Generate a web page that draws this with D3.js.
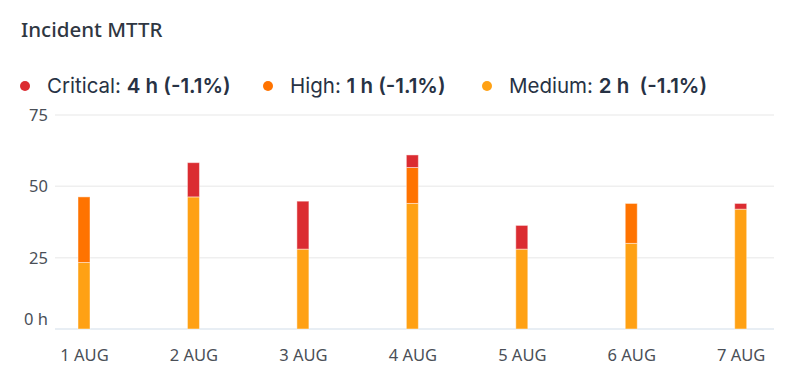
<!DOCTYPE html>
<html>
<head>
<meta charset="utf-8">
<script src="https://cdn.jsdelivr.net/npm/d3@7"></script>
<style>
    body { margin: 0; background: #fff; }
    svg { display: block; }
</style>
</head>
<body>
<div class="chart"></div>
<script>
const days = ['1 AUG', '2 AUG', '3 AUG', '4 AUG', '5 AUG', '6 AUG', '7 AUG'];
const medium = [23.3, 46.3, 28, 44, 28, 30, 42];
const high = [23, 0, 0, 12.6, 0, 14, 0];
const critical = [0, 12, 16.8, 4.4, 8.3, 0, 2];
const yTicks = [0, 25, 50, 75];

const legendItems = [
    { name: 'Critical', value: '4 h', change: '(-1.1%)', color: '#db2c31' },
    { name: 'High', value: '1 h', change: '(-1.1%)', color: '#ff7300' },
    { name: 'Medium', value: '2 h', change: ' (-1.1%)', color: '#ffa114' }
];

const width = 789;
const height = 384;
const margin = { top: 115, right: 15, bottom: 55, left: 55 };

const rows = days.map((day, i) => ({
    day,
    Medium: medium[i],
    High: high[i],
    Critical: critical[i]
}));

const stack = d3.stack().keys(['Medium', 'High', 'Critical']);
const series = stack(rows);
const colorOf = {
    Critical: legendItems[0].color,
    High: legendItems[1].color,
    Medium: legendItems[2].color
};

const svg = d3.select('.chart')
    .append('svg')
    .attr('width', width)
    .attr('height', height);

svg.append('text')
    .attr('x', 21)
    .attr('y', 37)
    .attr('fill', '#2f3742')
    .style('font-family', 'Noto Sans')
    .style('font-size', '20.5px')
    .style('font-weight', 500)
    .text('Incident MTTR');

// legend
const legendX = [25, 268, 487];
const legend = svg.append('g')
    .selectAll('g')
    .data(legendItems)
    .enter()
    .append('g')
    .attr('transform', (d, i) => `translate(${legendX[i]},86)`);

legend.append('circle')
    .attr('r', 5)
    .attr('fill', d => d.color);

const legendText = legend.append('text')
    .attr('x', 22)
    .attr('dy', '0.35em')
    .attr('fill', '#273244')
    .style('font-family', 'Inter')
    .style('font-size', '20.5px');

legendText.append('tspan').text(d => `${d.name}: `);
legendText.append('tspan')
    .style('font-weight', 600)
    .style('white-space', 'pre')
    .text(d => `${d.value} ${d.change}`);

const y = d3.scaleLinear()
    .domain([0, 75])
    .range([height - margin.bottom, margin.top]);

const x = d3.scalePoint()
    .domain(days)
    .range([84, 740.7]);

const grid = svg.append('g');
grid.selectAll('line')
    .data(yTicks)
    .enter()
    .append('line')
    .attr('x1', margin.left)
    .attr('x2', width - margin.right)
    .attr('y1', d => y(d))
    .attr('y2', d => y(d))
    .attr('stroke', d => d === 0 ? '#e1e8f1' : '#efefef')
    .attr('stroke-width', 1.5);

grid.selectAll('text')
    .data(yTicks)
    .enter()
    .append('text')
    .attr('x', 48)
    .attr('y', d => y(d) + (d === 0 ? -4 : 6))
    .attr('text-anchor', 'end')
    .attr('fill', '#4a4f57')
    .style('font-family', 'Noto Sans')
    .style('font-size', '16.5px')
    .text(d => d === 0 ? '0 h' : d);

const barWidth = 12;
svg.append('g')
    .selectAll('g')
    .data(series)
    .enter()
    .append('g')
    .attr('fill', d => colorOf[d.key])
    .selectAll('rect')
    .data(d => d.filter(p => p[1] - p[0] > 0))
    .enter()
    .append('rect')
    .attr('x', d => x(d.data.day) - barWidth / 2)
    .attr('y', d => y(d[1]))
    .attr('width', barWidth)
    .attr('height', d => y(d[0]) - y(d[1]))
    .attr('stroke', 'rgba(255,255,255,0.45)')
    .attr('stroke-width', 1);

const xAxis = d3.axisBottom(x).tickSize(0).tickPadding(0);
const xg = svg.append('g')
    .attr('transform', `translate(0,${height - margin.bottom})`)
    .call(xAxis);
xg.select('.domain').remove();
xg.selectAll('text')
    .attr('y', 32)
    .attr('dy', 0)
    .attr('fill', '#4a4f57')
    .style('font-family', 'Noto Sans')
    .style('font-size', '16.5px');
</script>
</body>
</html>
